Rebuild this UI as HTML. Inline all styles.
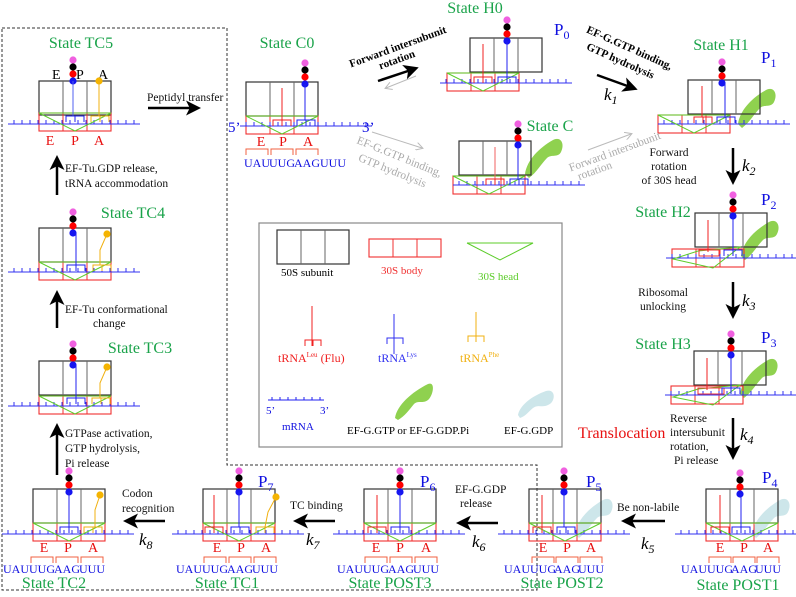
<!DOCTYPE html>
<html><head><meta charset="utf-8"><style>
html,body{margin:0;padding:0;background:#fff}
svg{display:block;font-family:"Liberation Serif",serif}
.g{fill:#1aa34a;font-size:16px}
.bl{fill:#1010e0}
.r{fill:#e81010}
.t{font-size:11.5px;fill:#111}
.gr{fill:#aaa;font-size:11.5px}
.cd{fill:#1010e0;font-size:12px;text-anchor:middle}
</style></head><body>
<svg width="796" height="597" viewBox="0 0 796 597">
<defs>
<g id="s50"><rect x="0" y="0" width="72" height="34" fill="none" stroke="#333" stroke-width="1.2"/><line x1="24" y1="0" x2="24" y2="34" stroke="#666"/><line x1="48" y1="0" x2="48" y2="34" stroke="#666"/></g>
<g id="body"><rect x="0" y="0" width="72" height="18" fill="none" stroke="#f03030" stroke-width="1.1"/><line x1="24" y1="0" x2="24" y2="18" stroke="#f03030"/><line x1="48" y1="0" x2="48" y2="18" stroke="#f03030"/></g>
<g id="mrna" stroke="#3030f0" stroke-width="1"><line x1="0" y1="0" x2="132" y2="0"/><path d="M6 0v-4M14 0v-4M22 0v-4M30 0v-4M38 0v-4M46 0v-4M54 0v-4M62 0v-4M70 0v-4M78 0v-4M86 0v-4M94 0v-4M102 0v-4M110 0v-4M118 0v-4M126 0v-4"/></g>
<g id="head"><polyline points="0,0 36,18 72,0 0,0" fill="none" stroke="#5ccc2a" stroke-width="1"/></g>
<g id="dots"><circle cx="0" cy="0" r="3.6" fill="#f060e0"/><circle cx="0" cy="7" r="3.6" fill="#000"/><circle cx="0" cy="14" r="3.6" fill="#f00"/><circle cx="0" cy="21" r="3.6" fill="#1515f0"/></g>
<path id="bbr" d="M-9 6v-6h18v6M0 0v6" fill="none" stroke="#2020f0"/>
<path id="rbr" d="M-9 6v-6h18v6M0 0v6" fill="none" stroke="#f02020"/>
<path id="ybr" d="M-9 6v-6h18v6M0 0v6" fill="none" stroke="#f0b010"/>
<path id="cbr" d="M-11 7v-6h22v6" fill="none" stroke="#f06040"/>
<path id="efg" d="M0 34 C2 20 14 8 28 0 C36 -4 40 4 36 12 C33 18 26 14 22 18 C16 24 12 32 4 38 Z"/>
<marker id="ah" markerWidth="6" markerHeight="6" refX="4" refY="3" orient="auto" markerUnits="strokeWidth"><path d="M0 0L6 3L0 6L1.5 3Z" fill="#000"/></marker>
<marker id="ahg" markerWidth="8" markerHeight="8" refX="6" refY="4" orient="auto" markerUnits="strokeWidth"><path d="M0 0L7 4L0 8" fill="none" stroke="#bbb"/></marker>
</defs>

<path d="M2 28H227V465H537V590H2Z" fill="none" stroke="#333" stroke-dasharray="3,2" stroke-width="1"/>

<!-- TC5 -->
<text x="81" y="48" class="g" text-anchor="middle">State TC5</text>
<use href="#s50" x="39" y="81"/><use href="#body" x="39" y="113"/><use href="#mrna" x="8" y="124"/><use href="#head" x="39" y="113"/>
<text x="52" y="79" font-size="14">E</text><text x="76" y="79" font-size="14">P</text><text x="98" y="79" font-size="14">A</text>
<use href="#dots" x="73" y="60"/>
<line x1="73" y1="81" x2="73" y2="116" stroke="#5060f0"/><use href="#bbr" x="75" y="116"/>
<circle cx="99" cy="81" r="3.6" fill="#f5b400"/><line x1="99" y1="81" x2="99" y2="116" stroke="#f0b010"/><use href="#ybr" x="100" y="116"/>
<text x="50" y="145" class="r" font-size="14" text-anchor="middle">E</text><text x="75" y="145" class="r" font-size="14" text-anchor="middle">P</text><text x="99" y="145" class="r" font-size="14" text-anchor="middle">A</text>
<line x1="57" y1="195" x2="57" y2="160" stroke="#000" stroke-width="2.5" marker-end="url(#ah)"/>
<text x="65" y="172" class="t">EF-Tu.GDP release,</text><text x="65" y="187" class="t">tRNA accommodation</text>

<!-- TC4 -->
<text x="133" y="218" class="g" text-anchor="middle">State TC4</text>
<use href="#s50" x="39" y="228"/><use href="#body" x="39" y="262"/><use href="#mrna" x="8" y="272"/><use href="#head" x="39" y="262"/>
<use href="#dots" x="73" y="212"/>
<line x1="76" y1="233" x2="76" y2="265" stroke="#2020f0"/><use href="#bbr" x="76" y="265"/>
<circle cx="107" cy="234" r="3.6" fill="#f5b400"/><polyline points="107,234 100,250 100,265" fill="none" stroke="#f0b010"/><use href="#ybr" x="102" y="265"/>
<line x1="57" y1="328" x2="57" y2="295" stroke="#000" stroke-width="2.5" marker-end="url(#ah)"/>
<text x="65" y="313" class="t">EF-Tu conformational</text><text x="93" y="327" class="t">change</text>

<!-- TC3 -->
<text x="140" y="353" class="g" text-anchor="middle">State TC3</text>
<use href="#s50" x="39" y="361"/><use href="#body" x="39" y="396"/><use href="#mrna" x="8" y="406"/><use href="#head" x="39" y="396"/>
<use href="#dots" x="73" y="344"/>
<line x1="76" y1="365" x2="76" y2="398" stroke="#2020f0"/><use href="#bbr" x="76" y="398"/>
<circle cx="107" cy="367" r="3.6" fill="#f5b400"/><polyline points="107,367 100,383 100,398" fill="none" stroke="#f0b010"/><use href="#ybr" x="101" y="398"/>
<line x1="57" y1="475" x2="57" y2="428" stroke="#000" stroke-width="2.5" marker-end="url(#ah)"/>
<text x="65" y="437" class="t">GTPase activation,</text><text x="65" y="452" class="t">GTP hydrolysis,</text><text x="65" y="467" class="t">Pi release</text>

<!-- TC2 -->
<use href="#s50" x="33" y="489"/><use href="#body" x="33" y="523"/><use href="#mrna" x="2" y="534"/><use href="#head" x="33" y="523"/>
<use href="#dots" x="69" y="471"/>
<line x1="69" y1="492" x2="69" y2="527" stroke="#2020f0"/><use href="#bbr" x="69" y="527"/>
<circle cx="100" cy="495" r="3.6" fill="#f5b400"/><polyline points="100,495 95,510 95,527" fill="none" stroke="#f0b010"/><use href="#ybr" x="93" y="527"/>
<use href="#cbr" x="42" y="556"/><use href="#cbr" x="67" y="556"/><use href="#cbr" x="92" y="556"/>
<text x="44" y="552" class="r" font-size="14" text-anchor="middle">E</text><text x="68" y="552" class="r" font-size="14" text-anchor="middle">P</text><text x="93" y="552" class="r" font-size="14" text-anchor="middle">A</text>
<text x="16" y="573" class="cd">UAU</text><text x="42" y="573" class="cd">UUG</text><text x="67" y="573" class="cd">AAG</text><text x="92" y="573" class="cd">UUU</text>
<text x="54" y="588" class="g" text-anchor="middle">State TC2</text>
<line x1="165" y1="521" x2="128" y2="521" stroke="#000" stroke-width="2.5" marker-end="url(#ah)"/>
<text x="122" y="497" class="t">Codon</text><text x="122" y="512" class="t">recognition</text>
<text x="139" y="545" font-size="17" font-style="italic">k<tspan font-size="12" dy="4">8</tspan></text>

<!-- TC1 -->
<use href="#s50" x="203" y="489"/><use href="#body" x="203" y="523"/><use href="#mrna" x="172" y="534"/><use href="#head" x="203" y="523"/>
<use href="#dots" x="239" y="471"/>
<line x1="214" y1="495" x2="214" y2="527" stroke="#f02020"/><use href="#rbr" x="214" y="527"/>
<line x1="239" y1="492" x2="239" y2="527" stroke="#2020f0"/><use href="#bbr" x="240" y="527"/>
<circle cx="276" cy="497" r="3.6" fill="#f5b400"/><polyline points="276,497 268,512 265,527" fill="none" stroke="#f0b010"/><use href="#ybr" x="265" y="527"/>
<text x="258" y="487" class="bl" font-size="17">P<tspan font-size="12" dy="4">7</tspan></text>
<use href="#cbr" x="215" y="556"/><use href="#cbr" x="240" y="556"/><use href="#cbr" x="265" y="556"/>
<text x="217" y="552" class="r" font-size="14" text-anchor="middle">E</text><text x="241" y="552" class="r" font-size="14" text-anchor="middle">P</text><text x="266" y="552" class="r" font-size="14" text-anchor="middle">A</text>
<text x="189" y="573" class="cd">UAU</text><text x="215" y="573" class="cd">UUG</text><text x="240" y="573" class="cd">AAG</text><text x="265" y="573" class="cd">UUU</text>
<text x="227" y="588" class="g" text-anchor="middle">State TC1</text>
<line x1="335" y1="521" x2="298" y2="521" stroke="#000" stroke-width="2.5" marker-end="url(#ah)"/>
<text x="290" y="509" class="t">TC binding</text>
<text x="306" y="545" font-size="17" font-style="italic">k<tspan font-size="12" dy="4">7</tspan></text>

<!-- POST3 -->
<use href="#s50" x="364" y="489"/><use href="#body" x="364" y="523"/><use href="#mrna" x="333" y="534"/><use href="#head" x="364" y="523"/>
<use href="#dots" x="400" y="471"/>
<line x1="377" y1="495" x2="377" y2="527" stroke="#f02020"/><use href="#rbr" x="377" y="527"/>
<line x1="400" y1="492" x2="400" y2="527" stroke="#2020f0"/><use href="#bbr" x="400" y="527"/>
<text x="420" y="487" class="bl" font-size="17">P<tspan font-size="12" dy="4">6</tspan></text>
<use href="#cbr" x="376" y="556"/><use href="#cbr" x="401" y="556"/><use href="#cbr" x="426" y="556"/>
<text x="376" y="552" class="r" font-size="14" text-anchor="middle">E</text><text x="400" y="552" class="r" font-size="14" text-anchor="middle">P</text><text x="426" y="552" class="r" font-size="14" text-anchor="middle">A</text>
<text x="350" y="573" class="cd">UAU</text><text x="376" y="573" class="cd">UUG</text><text x="401" y="573" class="cd">AAG</text><text x="426" y="573" class="cd">UUU</text>
<text x="390" y="588" class="g" text-anchor="middle">State POST3</text>
<line x1="498" y1="523" x2="461" y2="523" stroke="#000" stroke-width="2.5" marker-end="url(#ah)"/>
<text x="455" y="493" class="t">EF-G.GDP</text><text x="460" y="507" class="t">release</text>
<text x="472" y="547" font-size="17" font-style="italic">k<tspan font-size="12" dy="4">6</tspan></text>

<!-- POST2 -->
<use href="#efg" x="575" y="500" fill="#cde6ea"/>
<use href="#s50" x="529" y="489"/><use href="#body" x="529" y="523"/><use href="#mrna" x="498" y="534"/><use href="#head" x="529" y="523"/>
<use href="#dots" x="564" y="471"/>
<line x1="542" y1="495" x2="542" y2="527" stroke="#f02020"/><use href="#rbr" x="542" y="527"/>
<line x1="564" y1="492" x2="564" y2="527" stroke="#2020f0"/><use href="#bbr" x="566" y="527"/>
<text x="586" y="487" class="bl" font-size="17">P<tspan font-size="12" dy="4">5</tspan></text>
<use href="#cbr" x="543" y="556"/><use href="#cbr" x="567" y="556"/><use href="#cbr" x="591" y="556"/>
<text x="543" y="552" class="r" font-size="14" text-anchor="middle">E</text><text x="567" y="552" class="r" font-size="14" text-anchor="middle">P</text><text x="591" y="552" class="r" font-size="14" text-anchor="middle">A</text>
<text x="517" y="573" class="cd">UAU</text><text x="543" y="573" class="cd">UUG</text><text x="567" y="573" class="cd">AAG</text><text x="591" y="573" class="cd">UUU</text>
<text x="562" y="588" class="g" text-anchor="middle">State POST2</text>
<line x1="665" y1="521" x2="626" y2="521" stroke="#000" stroke-width="2.5" marker-end="url(#ah)"/>
<text x="617" y="511" class="t">Be non-labile</text>
<text x="641" y="549" font-size="17" font-style="italic">k<tspan font-size="12" dy="4">5</tspan></text>

<!-- POST1 -->
<use href="#efg" x="752" y="500" fill="#cde6ea"/>
<use href="#s50" x="706" y="489"/><use href="#body" x="706" y="523"/><use href="#mrna" x="675" y="534"/><use href="#head" x="706" y="523"/>
<use href="#dots" x="740" y="473"/>
<line x1="720" y1="495" x2="720" y2="527" stroke="#f02020"/><use href="#rbr" x="720" y="527"/>
<line x1="741" y1="494" x2="741" y2="527" stroke="#2020f0"/><use href="#bbr" x="741" y="527"/>
<text x="762" y="483" class="bl" font-size="17">P<tspan font-size="12" dy="4">4</tspan></text>
<use href="#cbr" x="720" y="556"/><use href="#cbr" x="744" y="556"/><use href="#cbr" x="768" y="556"/>
<text x="720" y="552" class="r" font-size="14" text-anchor="middle">E</text><text x="744" y="552" class="r" font-size="14" text-anchor="middle">P</text><text x="768" y="552" class="r" font-size="14" text-anchor="middle">A</text>
<text x="694" y="573" class="cd">UAU</text><text x="720" y="573" class="cd">UUG</text><text x="744" y="573" class="cd">AAG</text><text x="768" y="573" class="cd">UUU</text>
<text x="738" y="590" class="g" text-anchor="middle">State POST1</text>

<!-- C0 -->
<text x="287" y="48" class="g" text-anchor="middle">State C0</text>
<use href="#s50" x="246" y="82"/><use href="#body" x="246" y="116"/><use href="#mrna" x="240" y="126"/><use href="#head" x="246" y="116"/>
<use href="#dots" x="305" y="63"/>
<line x1="282" y1="88" x2="282" y2="120" stroke="#f02020"/><use href="#rbr" x="282" y="120"/>
<line x1="305" y1="84" x2="305" y2="120" stroke="#2020f0"/><use href="#bbr" x="306" y="120"/>
<text x="228" y="132" class="bl" font-size="15">5’</text><text x="362" y="132" class="bl" font-size="15">3’</text>
<use href="#cbr" x="257" y="148"/><use href="#cbr" x="282" y="148"/><use href="#cbr" x="307" y="148"/>
<text x="261" y="146" class="r" font-size="14" text-anchor="middle">E</text><text x="283" y="146" class="r" font-size="14" text-anchor="middle">P</text><text x="308" y="146" class="r" font-size="14" text-anchor="middle">A</text>
<text x="257" y="167" class="cd">UAU</text><text x="282" y="167" class="cd">UUG</text><text x="307" y="167" class="cd">AAG</text><text x="333" y="167" class="cd">UUU</text>
<line x1="148" y1="108" x2="196" y2="108" stroke="#000" stroke-width="2.5" marker-end="url(#ah)"/>
<text x="147" y="101" class="t">Peptidyl transfer</text>

<text transform="translate(399,50) rotate(-20)" font-size="11" font-weight="bold" text-anchor="middle">Forward intersubunit</text>
<text transform="translate(398,63) rotate(-20)" font-size="11" font-weight="bold" text-anchor="middle">rotation</text>
<line x1="378" y1="81" x2="414" y2="69" stroke="#000" stroke-width="2.5" marker-end="url(#ah)"/>
<line x1="416" y1="76" x2="386" y2="88" stroke="#bbb" stroke-width="1" marker-end="url(#ahg)"/>

<!-- H0 -->
<text x="475" y="13" class="g" text-anchor="middle">State H0</text>
<use href="#s50" x="470" y="38"/><use href="#body" x="447" y="73"/><use href="#mrna" x="440" y="83"/><use href="#head" x="447" y="73"/>
<use href="#dots" x="507" y="20"/>
<line x1="483" y1="44" x2="483" y2="77" stroke="#f02020"/><use href="#rbr" x="483" y="77"/>
<line x1="507" y1="41" x2="507" y2="77" stroke="#2020f0"/><use href="#bbr" x="507" y="77"/>
<text x="554" y="35" class="bl" font-size="17">P<tspan font-size="12" dy="4">0</tspan></text>

<text transform="translate(628,51) rotate(24)" font-size="11" font-weight="bold" text-anchor="middle">EF-G.GTP binding,</text>
<text transform="translate(619,64) rotate(24)" font-size="11" font-weight="bold" text-anchor="middle">GTP hydrolysis</text>
<line x1="597" y1="75" x2="633" y2="88" stroke="#000" stroke-width="2.5" marker-end="url(#ah)"/>
<text x="604" y="100" font-size="17" font-style="italic">k<tspan font-size="12" dy="4">1</tspan></text>

<!-- H1 -->
<text x="721" y="50" class="g" text-anchor="middle">State H1</text>
<use href="#efg" x="738" y="90" fill="#8fd14f"/>
<use href="#s50" x="688" y="80"/><use href="#body" x="658" y="115"/><use href="#mrna" x="658" y="124"/><use href="#head" x="658" y="115"/>
<use href="#dots" x="722" y="62"/>
<line x1="702" y1="86" x2="702" y2="117" stroke="#f02020"/><use href="#rbr" x="703" y="117"/>
<line x1="725" y1="83" x2="725" y2="117" stroke="#2020f0"/><use href="#bbr" x="726" y="117"/>
<text x="761" y="63" class="bl" font-size="17">P<tspan font-size="12" dy="4">1</tspan></text>
<line x1="733" y1="148" x2="733" y2="180" stroke="#000" stroke-width="2.5" marker-end="url(#ah)"/>
<text x="669" y="156" class="t" text-anchor="middle">Forward</text><text x="669" y="170" class="t" text-anchor="middle">rotation</text><text x="669" y="184" class="t" text-anchor="middle">of 30S head</text>
<text x="742" y="171" font-size="17" font-style="italic">k<tspan font-size="12" dy="4">2</tspan></text>

<!-- State C -->
<text x="550" y="131" class="g" text-anchor="middle" font-size="18">State C</text>
<use href="#efg" x="525" y="140" fill="#8fd14f"/>
<use href="#s50" x="459" y="141"/><use href="#body" x="453" y="176"/><use href="#mrna" x="453" y="185"/><use href="#head" x="453" y="176"/>
<use href="#dots" x="518" y="124"/>
<line x1="495" y1="147" x2="495" y2="179" stroke="#f06060"/><use href="#rbr" x="495" y="179"/>
<line x1="518" y1="145" x2="518" y2="179" stroke="#2020f0"/><use href="#bbr" x="519" y="179"/>
<text transform="translate(398,160) rotate(22)" class="gr" text-anchor="middle">EF-G.GTP binding,</text>
<text transform="translate(391,174) rotate(22)" class="gr" text-anchor="middle">GTP hydrolysis</text>
<line x1="372" y1="132" x2="422" y2="148" stroke="#bbb" stroke-width="1" marker-end="url(#ahg)"/>
<text transform="translate(616,155) rotate(-20)" class="gr" text-anchor="middle">Forward intersubunit</text>
<text transform="translate(596,174) rotate(-20)" class="gr" text-anchor="middle">rotation</text>
<line x1="588" y1="150" x2="631" y2="134" stroke="#bbb" stroke-width="1" marker-end="url(#ahg)"/>

<!-- H2 -->
<text x="663" y="217" class="g" text-anchor="middle">State H2</text>
<use href="#efg" x="741" y="222" fill="#8fd14f"/>
<use href="#s50" x="695" y="213"/><use href="#body" x="672" y="249"/><use href="#mrna" x="666" y="258"/>
<polygon points="673,259 713,268 740,247 698,251" fill="none" stroke="#5ccc2a"/>
<rect x="699" y="250" width="20" height="6" fill="none" stroke="#f03030"/>
<use href="#dots" x="733" y="195"/>
<line x1="708" y1="220" x2="708" y2="252" stroke="#f02020"/>
<line x1="733" y1="216" x2="733" y2="252" stroke="#2020f0"/><use href="#bbr" x="733" y="250"/>
<text x="761" y="205" class="bl" font-size="17">P<tspan font-size="12" dy="4">2</tspan></text>
<line x1="733" y1="282" x2="733" y2="314" stroke="#000" stroke-width="2.5" marker-end="url(#ah)"/>
<text x="663" y="296" class="t" text-anchor="middle">Ribosomal</text><text x="663" y="310" class="t" text-anchor="middle">unlocking</text>
<text x="742" y="306" font-size="17" font-style="italic">k<tspan font-size="12" dy="4">3</tspan></text>

<!-- H3 -->
<text x="663" y="349" class="g" text-anchor="middle">State H3</text>
<use href="#efg" x="740" y="360" fill="#8fd14f"/>
<use href="#s50" x="694" y="351"/><use href="#body" x="671" y="386"/><use href="#mrna" x="665" y="395"/>
<polygon points="673,397 713,405 740,385 698,389" fill="none" stroke="#5ccc2a"/>
<rect x="698" y="388" width="26" height="6" fill="none" stroke="#f03030"/>
<use href="#dots" x="731" y="334"/>
<line x1="707" y1="358" x2="707" y2="390" stroke="#f02020"/>
<line x1="731" y1="354" x2="731" y2="390" stroke="#2020f0"/><use href="#bbr" x="731" y="388"/>
<text x="761" y="343" class="bl" font-size="17">P<tspan font-size="12" dy="4">3</tspan></text>
<line x1="733" y1="418" x2="733" y2="455" stroke="#000" stroke-width="2.5" marker-end="url(#ah)"/>
<text x="670" y="422" class="t">Reverse</text><text x="670" y="436" class="t">intersubunit</text><text x="670" y="450" class="t">rotation,</text><text x="674" y="464" class="t">Pi release</text>
<text x="740" y="440" font-size="17" font-style="italic">k<tspan font-size="12" dy="4">4</tspan></text>
<text x="578" y="438" fill="#e81010" font-size="16">Translocation</text>

<!-- legend -->
<rect x="259" y="223" width="303" height="224" fill="none" stroke="#888" stroke-width="1.2"/>
<use href="#s50" x="277" y="230"/>
<text x="281" y="276" font-size="11">50S subunit</text>
<use href="#body" x="369" y="239"/>
<text x="381" y="274" font-size="11" fill="#f03030">30S body</text>
<polyline points="467,243 500,260 533,243 467,243" fill="none" stroke="#5ccc2a"/>
<text x="478" y="280" font-size="11" fill="#5ccc2a">30S  head</text>
<path d="M312 306v40M305 346v-6h16v6M313 340v6" fill="none" stroke="#f02020"/>
<text x="278" y="362" font-size="12" fill="#f02020">tRNA<tspan font-size="7" dy="-5">Leu</tspan><tspan dy="5"> (Flu)</tspan></text>
<path d="M394 314v40M387 344v-6h16v6M394 338v6" fill="none" stroke="#3030f0"/>
<text x="378" y="362" font-size="12" fill="#3030f0">tRNA<tspan font-size="7" dy="-5">Lys</tspan></text>
<path d="M476 312v30M468 342v-6h16v6M476 336v6" fill="none" stroke="#f0b010"/>
<text x="460" y="362" font-size="12" fill="#f0b010">tRNA<tspan font-size="7" dy="-5">Phe</tspan></text>
<path d="M268 400h56M272 400v-3M280 400v-3M288 400v-3M296 400v-3M304 400v-3M312 400v-3M320 400v-3" stroke="#2020f0" fill="none"/>
<text x="266" y="414" class="bl" font-size="11">5’</text><text x="320" y="414" class="bl" font-size="11">3’</text>
<text x="282" y="430" class="bl" font-size="11">mRNA</text>
<path d="M395 418 C397 405 412 392 428 384 C436 381 433 396 428 400 C423 404 418 400 414 404 C409 410 405 416 398 420 Z" fill="#8fd14f"/>
<text x="347" y="434" font-size="11">EF-G.GTP or EF-G.GDP.Pi</text>
<path d="M518 415 C520 405 532 396 546 391 C556 388 556 402 548 405 C542 408 538 404 533 408 C528 412 526 416 520 418 Z" fill="#cde6ea"/>
<text x="504" y="434" font-size="11">EF-G.GDP</text>
</svg>
</body></html>
